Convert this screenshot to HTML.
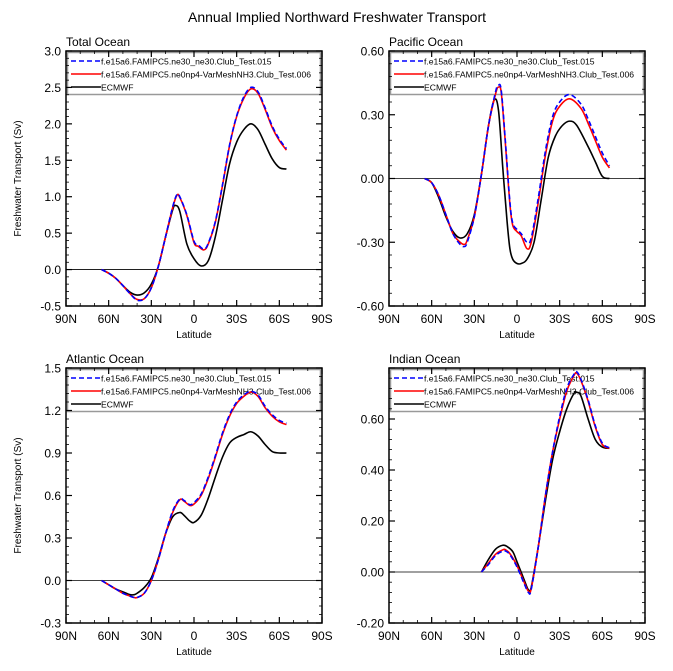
<!DOCTYPE html>
<html><head><meta charset="utf-8">
<style>
body{margin:0;background:#fff;}
svg{display:block;font-family:"Liberation Sans",Arial,sans-serif;}
</style></head>
<body>
<svg id="c" width="673" height="671" xmlns="http://www.w3.org/2000/svg">
<text x="337" y="22" text-anchor="middle" font-size="14">Annual Implied Northward Freshwater Transport</text>
</svg>
<script>
// Total Ocean
const totLatM=[65,60,55,50,45,40,35,30,25,20,15,12,10,5,0,-3,-7,-10,-15,-20,-25,-30,-35,-40,-45,-50,-55,-60,-65];
const totBlue=[0,-0.05,-0.12,-0.22,-0.33,-0.42,-0.40,-0.25,0.05,0.45,0.86,1.03,1.0,0.75,0.39,0.34,0.28,0.36,0.66,1.16,1.71,2.11,2.37,2.50,2.44,2.22,1.97,1.79,1.66];
const totRed=[0,-0.05,-0.12,-0.22,-0.33,-0.41,-0.40,-0.25,0.05,0.45,0.85,1.02,0.99,0.74,0.37,0.32,0.27,0.35,0.65,1.15,1.70,2.10,2.35,2.48,2.42,2.20,1.95,1.77,1.64];
const totLatE=[65,60,55,50,45,40,35,30,25,20,15,13,10,5,0,-5,-10,-15,-20,-25,-30,-35,-40,-45,-50,-55,-60,-65];
const totEc=[0,-0.05,-0.12,-0.22,-0.31,-0.35,-0.32,-0.2,0.05,0.45,0.82,0.88,0.8,0.35,0.15,0.05,0.12,0.45,0.95,1.45,1.75,1.92,2.0,1.92,1.72,1.52,1.40,1.38];
const totTicks=[-0.5,0.0,0.5,1.0,1.5,2.0,2.5,3.0];
const totLabels=["-0.5","0.0","0.5","1.0","1.5","2.0","2.5","3.0"];
// Pacific Ocean
const pacLatM=[65,60,55,50,45,40,37,35,30,25,20,15,13,11,8,5,3,0,-3,-7,-10,-15,-20,-25,-30,-37,-45,-50,-55,-60,-65];
const pacBlue=[0,-0.02,-0.08,-0.17,-0.26,-0.31,-0.32,-0.30,-0.18,0.02,0.25,0.41,0.44,0.41,0.16,-0.11,-0.21,-0.24,-0.26,-0.30,-0.28,-0.09,0.13,0.29,0.36,0.395,0.35,0.28,0.20,0.12,0.06];
const pacRed=[0,-0.02,-0.08,-0.17,-0.26,-0.30,-0.31,-0.29,-0.18,0.02,0.25,0.40,0.43,0.40,0.15,-0.12,-0.22,-0.25,-0.27,-0.33,-0.30,-0.11,0.11,0.27,0.34,0.375,0.33,0.26,0.18,0.10,0.05];
const pacLatE=[65,60,55,50,45,40,35,30,25,20,16,13,10,7,5,3,0,-3,-7,-12,-17,-22,-27,-32,-37,-42,-50,-55,-60,-65];
const pacEc=[0,-0.02,-0.09,-0.18,-0.25,-0.28,-0.26,-0.17,0.02,0.25,0.37,0.32,0.05,-0.2,-0.33,-0.38,-0.40,-0.40,-0.38,-0.30,-0.1,0.1,0.2,0.25,0.27,0.25,0.15,0.08,0.01,0];
const pacTicks=[-0.6,-0.3,0.0,0.3,0.6];
const pacLabels=["-0.60","-0.30","0.00","0.30","0.60"];
// Atlantic Ocean
const atlLatM=[65,60,55,50,45,42,40,35,30,25,20,15,10,7,3,0,-5,-10,-15,-20,-25,-30,-35,-40,-45,-50,-55,-60,-65];
const atlBlue=[0,-0.03,-0.06,-0.09,-0.11,-0.12,-0.12,-0.09,0.0,0.15,0.33,0.49,0.575,0.565,0.535,0.55,0.61,0.73,0.88,1.04,1.17,1.26,1.31,1.335,1.31,1.23,1.17,1.13,1.11];
const atlRed=[0,-0.03,-0.06,-0.09,-0.11,-0.12,-0.12,-0.09,0.0,0.15,0.33,0.48,0.57,0.56,0.53,0.54,0.60,0.72,0.87,1.03,1.16,1.25,1.30,1.33,1.30,1.22,1.16,1.12,1.10];
const atlLatE=[65,60,55,50,45,42,40,35,30,25,20,15,10,7,3,0,-5,-10,-15,-20,-25,-30,-35,-40,-45,-50,-55,-60,-65];
const atlEc=[0,-0.03,-0.06,-0.08,-0.1,-0.1,-0.09,-0.05,0.02,0.16,0.33,0.45,0.48,0.46,0.42,0.41,0.46,0.58,0.73,0.87,0.97,1.01,1.03,1.05,1.02,0.96,0.91,0.90,0.90];
const atlTicks=[-0.3,0.0,0.3,0.6,0.9,1.2,1.5];
const atlLabels=["-0.3","0.0","0.3","0.6","0.9","1.2","1.5"];
// Indian Ocean
const indLatM=[25,20,15,10,8,5,0,-5,-8,-10,-15,-20,-25,-30,-35,-40,-42,-45,-50,-55,-60,-65];
const indBlue=[0,0.03,0.065,0.082,0.082,0.068,0.02,-0.045,-0.08,-0.068,0.1,0.3,0.47,0.61,0.72,0.775,0.785,0.755,0.675,0.575,0.505,0.487];
const indRed=[0,0.035,0.07,0.087,0.087,0.072,0.025,-0.04,-0.075,-0.065,0.1,0.3,0.47,0.60,0.71,0.77,0.78,0.75,0.67,0.57,0.50,0.485];
const indLatE=[25,20,15,10,7,3,0,-5,-8,-10,-15,-20,-25,-30,-35,-40,-42,-45,-50,-55,-60,-65];
const indEc=[0,0.05,0.09,0.105,0.10,0.08,0.04,-0.03,-0.07,-0.06,0.1,0.28,0.44,0.55,0.64,0.70,0.705,0.69,0.60,0.52,0.49,0.485];
const indTicks=[-0.2,0.0,0.2,0.4,0.6,0.8];
const indLabels=["-0.20","0.00","0.20","0.40","0.60",""];
const xTicks=[90,60,30,0,-30,-60,-90];
const xLabels=["90N","60N","30N","0","30S","60S","90S"];
const legendNames=["f.e15a6.FAMIPC5.ne30_ne30.Club_Test.015","f.e15a6.FAMIPC5.ne0np4-VarMeshNH3.Club_Test.006","ECMWF"];

const svg=document.getElementById('c');
const NS='http://www.w3.org/2000/svg';
function mk(tag,attrs,parent){const e=document.createElementNS(NS,tag);for(const k in attrs)e.setAttribute(k,attrs[k]);(parent||svg).appendChild(e);return e;}
function smooth(pts){let d='M'+pts[0][0].toFixed(2)+','+pts[0][1].toFixed(2);
 for(let i=0;i<pts.length-1;i++){const p0=pts[Math.max(0,i-1)],p1=pts[i],p2=pts[i+1],p3=pts[Math.min(pts.length-1,i+2)];
  const c1=[p1[0]+(p2[0]-p0[0])/6,p1[1]+(p2[1]-p0[1])/6],c2=[p2[0]-(p3[0]-p1[0])/6,p2[1]-(p3[1]-p1[1])/6];
  d+='C'+c1[0].toFixed(2)+','+c1[1].toFixed(2)+' '+c2[0].toFixed(2)+','+c2[1].toFixed(2)+' '+p2[0].toFixed(2)+','+p2[1].toFixed(2);}
 return d;}

function panel(o){
 const L=o.x0,R=o.x0+256,T=o.y0,B=o.y0+255;
 const ymin=o.ticks[0],ymax=o.ticks[o.ticks.length-1];
 const xs=v=>L+(90-v)/180*(R-L);
 const ys=v=>B-(v-ymin)/(ymax-ymin)*(B-T);
 const g=mk('g',{});
 
 
 const t=mk('text',{x:L,y:T-5,'font-size':12},g);t.textContent=o.title;
 
 
 const z=mk('line',{x1:L,x2:R,y1:ys(0),y2:ys(0),stroke:'#000','stroke-width':0.8},g);
 
 
 // legend (transparent)
 const lg=mk('g',{},g);
 
 
 mk('rect',{x:L+1.5,y:T+1.5,width:R-L-3,height:42,fill:'none',stroke:'#999','stroke-width':1.5},lg);
 const cols=['#0000ff','#ff0000','#000'],dash=['5,3','',''];
 legendNames.forEach((nm,i)=>{const y=T+10+i*13;
  mk('line',{x1:L+5,x2:L+35,y1:y,y2:y,stroke:cols[i],'stroke-width':1.6,'stroke-dasharray':dash[i]},lg);
  const tx=mk('text',{x:L+35,y:y+3.5,'font-size':8.6},lg);tx.textContent=nm;
  
  });
 const ser=[[o.latM,o.blue,'#0000ff','5,3','blue'],[o.latM,o.red,'#ff0000','','red'],[o.latE,o.ec,'#000','','ecmwf']];
 [2,1,0].forEach(i=>{const s=ser[i];const pts=s[0].map((la,j)=>[xs(la),ys(s[1][j])]);
  const p=mk('path',{d:smooth(pts),fill:'none',stroke:s[2],'stroke-width':1.6,'stroke-dasharray':s[3]},g);
  
  });
 o.ticks.forEach((v,i)=>{const y=ys(v);
  mk('line',{x1:L,x2:L+6,y1:y,y2:y,stroke:'#000','stroke-width':1.2},g);
  mk('line',{x1:R,x2:R-6,y1:y,y2:y,stroke:'#000','stroke-width':1.2},g);
  const tl=mk('text',{x:L-5,y:y+4.5,'font-size':12,'text-anchor':'end'},g);tl.textContent=o.labels[i];
  
  
  if(i<o.ticks.length-1){for(let k=1;k<5;k++){const yy=ys(v+(o.ticks[i+1]-v)*k/5);
   mk('line',{x1:L,x2:L+3,y1:yy,y2:yy,stroke:'#000','stroke-width':0.8},g);
   mk('line',{x1:R,x2:R-3,y1:yy,y2:yy,stroke:'#000','stroke-width':0.8},g);}}});
 xTicks.forEach((v,i)=>{const x=xs(v);
  mk('line',{x1:x,x2:x,y1:B,y2:B-6,stroke:'#000','stroke-width':1.2},g);
  mk('line',{x1:x,x2:x,y1:T,y2:T+6,stroke:'#000','stroke-width':1.2},g);
  const tl=mk('text',{x:x,y:B+17,'font-size':12,'text-anchor':'middle'},g);tl.textContent=xLabels[i];
  
  
  if(i<xTicks.length-1){for(let k=1;k<3;k++){const xx=xs(v-10*k);
   mk('line',{x1:xx,x2:xx,y1:B,y2:B-3,stroke:'#000','stroke-width':0.8},g);
   mk('line',{x1:xx,x2:xx,y1:T,y2:T+3,stroke:'#000','stroke-width':0.8},g);}}});
 const xt=mk('text',{x:(L+R)/2,y:B+32,'font-size':10,'text-anchor':'middle'},g);xt.textContent='Latitude';
 
 
 if(o.ytitle){const yt=mk('text',{x:0,y:0,'font-size':10,'text-anchor':'middle',transform:'translate('+(L-45)+','+((T+B)/2)+') rotate(-90)'},g);yt.textContent='Freshwater Transport (Sv)';
  
  }
 mk('rect',{x:L,y:T,width:R-L,height:B-T,fill:'none',stroke:'#000','stroke-width':1.5},g);
}
panel({name:'total-ocean',title:'Total Ocean',x0:66,y0:51,ticks:totTicks,labels:totLabels,latM:totLatM,blue:totBlue,red:totRed,latE:totLatE,ec:totEc,ytitle:true});
panel({name:'pacific-ocean',title:'Pacific Ocean',x0:389,y0:51,ticks:pacTicks,labels:pacLabels,latM:pacLatM,blue:pacBlue,red:pacRed,latE:pacLatE,ec:pacEc,ytitle:false});
panel({name:'atlantic-ocean',title:'Atlantic Ocean',x0:66,y0:368,ticks:atlTicks,labels:atlLabels,latM:atlLatM,blue:atlBlue,red:atlRed,latE:atlLatE,ec:atlEc,ytitle:true});
panel({name:'indian-ocean',title:'Indian Ocean',x0:389,y0:368,ticks:indTicks,labels:indLabels,latM:indLatM,blue:indBlue,red:indRed,latE:indLatE,ec:indEc,ytitle:false});
</script>
</body></html>
